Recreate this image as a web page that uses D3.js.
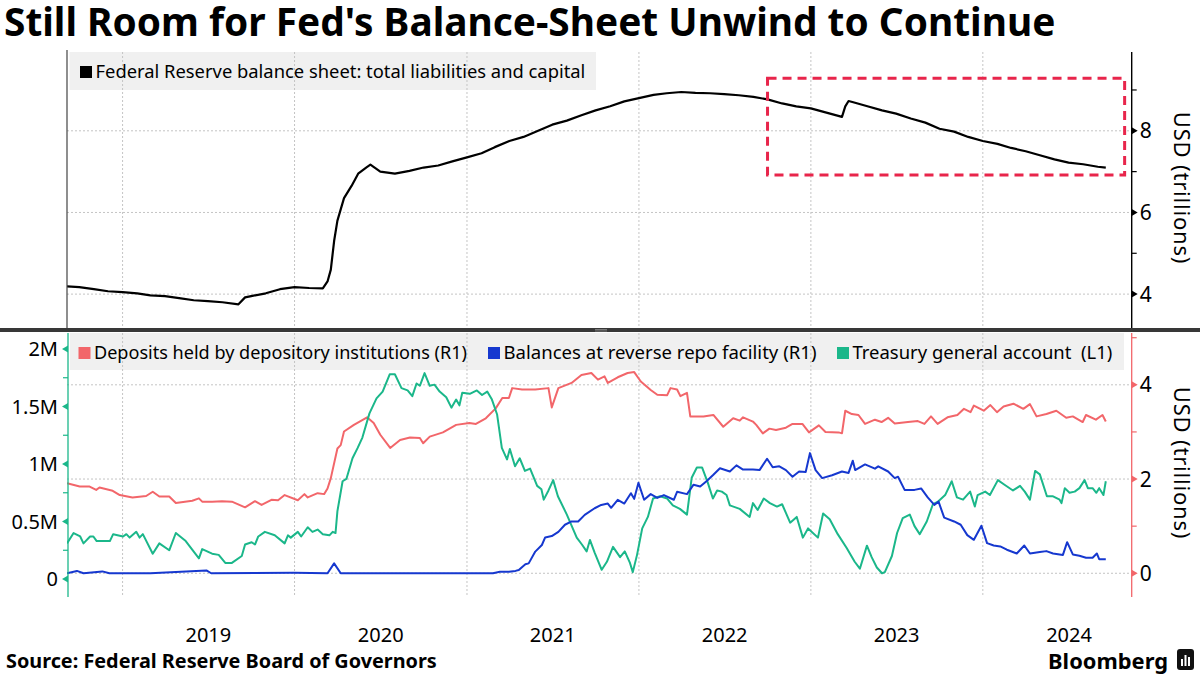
<!DOCTYPE html>
<html><head><meta charset="utf-8">
<script src="https://cdn.jsdelivr.net/npm/d3@7"></script>
<style>
body{margin:0;background:#fff}
svg{display:block}
text{font-family:"Noto Sans",sans-serif;fill:#000}
.pre{white-space:pre}
</style>
</head><body>
<svg id="c" width="1200" height="675"></svg>
<script>
// ---------------- DATA ----------------
const titleText = "Still Room for Fed's Balance-Sheet Unwind to Continue";
const sourceText = "Source: Federal Reserve Board of Governors";
const topLegendLabel = "Federal Reserve balance sheet: total liabilities and capital";
const bottomLegendLabels = ["Deposits held by depository institutions (R1)", "Balances at reverse repo facility (R1)", "Treasury general account  (L1)"];
const axisTitle = "USD (trillions)";
const yearLabels = ["2019", "2020", "2021", "2022", "2023", "2024"];
const topTicks = [4, 6, 8];
const topMinorTicks = [5, 7, 9];
const leftTicks = [0, 0.5, 1, 1.5, 2];
const leftTickLabels = ["0", "0.5M", "1M", "1.5M", "2M"];
const leftMinorTicks = [0.25, 0.75, 1.25, 1.75];
const rightTicks = [0, 2, 4];
const rightMinorTicks = [1, 3, 5];
const highlightDates = ["2022-10-01", "2024-10-28"];
const highlightValues = [6.92, 9.29];

// Federal Reserve total liabilities and capital (USD trillions)
const balanceSheet = [
["2018-09-05",4.19],["2018-10-01",4.17],["2018-11-01",4.12],["2018-12-01",4.07],["2019-01-01",4.05],["2019-02-01",4.02],["2019-03-01",3.97],["2019-04-01",3.95],["2019-05-01",3.90],["2019-06-01",3.85],["2019-07-01",3.83],["2019-08-01",3.80],["2019-09-04",3.75],["2019-09-18",3.92],["2019-10-01",3.95],["2019-11-01",4.02],["2019-12-01",4.12],
["2020-01-01",4.17],["2020-02-01",4.15],["2020-03-01",4.14],["2020-03-11",4.31],["2020-03-18",4.6],["2020-03-25",5.3],["2020-04-01",5.8],["2020-04-15",6.35],["2020-05-01",6.65],["2020-05-15",6.95],["2020-06-01",7.1],["2020-06-10",7.17],["2020-07-01",7.0],["2020-08-01",6.95],["2020-09-01",7.02],["2020-10-01",7.1],["2020-11-01",7.15],["2020-12-01",7.25],
["2021-01-01",7.35],["2021-02-01",7.45],["2021-03-01",7.6],["2021-04-01",7.75],["2021-05-01",7.85],["2021-06-01",8.0],["2021-07-01",8.15],["2021-08-01",8.25],["2021-09-01",8.38],["2021-10-01",8.5],["2021-11-01",8.6],["2021-12-01",8.72],
["2022-01-01",8.8],["2022-02-01",8.88],["2022-03-01",8.92],["2022-04-01",8.95],["2022-05-01",8.93],["2022-06-01",8.92],["2022-07-01",8.9],["2022-08-01",8.87],["2022-09-01",8.83],["2022-10-01",8.77],["2022-11-01",8.67],["2022-12-01",8.6],
["2023-01-01",8.55],["2023-02-01",8.45],["2023-03-08",8.34],["2023-03-15",8.6],["2023-03-22",8.73],["2023-04-01",8.7],["2023-05-01",8.6],["2023-06-01",8.5],["2023-07-01",8.42],["2023-08-01",8.3],["2023-09-01",8.2],["2023-10-01",8.05],["2023-11-01",7.98],["2023-12-01",7.85],
["2024-01-01",7.75],["2024-02-01",7.68],["2024-03-01",7.58],["2024-04-01",7.5],["2024-05-01",7.4],["2024-06-01",7.3],["2024-07-01",7.22],["2024-08-01",7.18],["2024-09-01",7.12],["2024-09-18",7.10]
];

// Deposits held by depository institutions (USD trillions, right axis)
const deposits = [
["2018-09-05",1.91],["2018-10-02",1.84],["2018-10-23",1.84],["2018-11-06",1.77],["2018-11-13",1.82],["2018-12-11",1.75],["2018-12-26",1.66],
["2019-01-22",1.61],["2019-02-20",1.64],["2019-03-06",1.73],["2019-03-20",1.63],["2019-04-10",1.63],["2019-04-24",1.49],["2019-05-29",1.54],["2019-06-12",1.59],["2019-06-19",1.52],["2019-07-10",1.52],["2019-07-31",1.53],["2019-08-21",1.52],["2019-09-18",1.40],["2019-10-09",1.53],["2019-10-23",1.45],["2019-11-13",1.56],["2019-11-27",1.55],["2019-12-11",1.66],
["2020-01-08",1.55],["2020-01-22",1.68],["2020-01-29",1.61],["2020-02-19",1.70],["2020-03-04",1.68],["2020-03-11",1.80],["2020-03-18",2.02],["2020-04-01",2.65],["2020-04-08",2.72],["2020-04-15",3.01],["2020-05-06",3.15],["2020-06-03",3.31],["2020-06-17",3.19],["2020-07-01",2.94],["2020-07-22",2.66],["2020-08-12",2.83],["2020-09-02",2.88],["2020-09-23",2.87],["2020-09-30",2.76],["2020-10-14",2.90],["2020-11-11",2.99],["2020-12-09",3.15],
["2021-01-06",3.19],["2021-01-20",3.17],["2021-02-10",3.29],["2021-03-03",3.50],["2021-03-17",3.72],["2021-03-31",3.72],["2021-04-07",3.93],["2021-04-28",3.90],["2021-05-26",3.90],["2021-06-23",3.93],["2021-06-30",3.52],["2021-07-14",3.93],["2021-08-11",4.04],["2021-09-01",4.21],["2021-09-22",4.25],["2021-10-06",4.11],["2021-10-20",4.18],["2021-10-27",4.04],["2021-11-17",4.16],["2021-12-08",4.25],["2021-12-22",4.27],
["2022-01-05",4.07],["2022-01-26",3.89],["2022-02-09",3.79],["2022-03-02",3.78],["2022-03-09",3.93],["2022-03-23",3.90],["2022-03-30",3.76],["2022-04-13",3.83],["2022-04-20",3.33],["2022-05-18",3.33],["2022-06-08",3.36],["2022-06-29",3.11],["2022-07-20",3.29],["2022-08-03",3.24],["2022-08-10",3.31],["2022-08-31",3.22],["2022-09-07",3.15],["2022-09-21",2.97],["2022-10-05",3.07],["2022-10-19",3.04],["2022-11-09",3.09],["2022-11-23",3.17],["2022-12-14",3.17],["2022-12-28",2.99],
["2023-01-18",3.14],["2023-02-01",3.00],["2023-03-01",2.99],["2023-03-08",2.97],["2023-03-15",3.45],["2023-03-29",3.38],["2023-04-12",3.36],["2023-04-26",3.17],["2023-05-17",3.26],["2023-05-31",3.21],["2023-06-14",3.30],["2023-06-28",3.18],["2023-07-26",3.21],["2023-08-16",3.23],["2023-08-30",3.17],["2023-09-13",3.33],["2023-09-27",3.17],["2023-10-18",3.31],["2023-11-08",3.36],["2023-11-22",3.49],["2023-12-06",3.42],["2023-12-13",3.56],
["2024-01-03",3.45],["2024-01-17",3.57],["2024-01-31",3.42],["2024-02-14",3.54],["2024-03-06",3.60],["2024-03-27",3.49],["2024-04-10",3.59],["2024-04-24",3.33],["2024-05-15",3.38],["2024-06-05",3.45],["2024-06-26",3.30],["2024-07-10",3.33],["2024-07-31",3.21],["2024-08-07",3.36],["2024-08-28",3.26],["2024-09-11",3.36],["2024-09-18",3.22]
];

// Balances at reverse repo facility (USD trillions, right axis)
const reverseRepo = [
["2018-09-05",0],["2018-09-26",0.05],["2018-10-10",0],["2018-11-19",0.04],["2018-12-04",0],["2019-03-01",0],["2019-06-28",0.06],["2019-07-08",0],["2019-12-31",0.01],["2020-03-11",0],["2020-03-25",0.21],["2020-04-08",0],["2021-02-25",0],["2021-03-12",0.03],["2021-03-31",0.03],["2021-04-14",0.05],["2021-04-21",0.07],["2021-05-05",0.19],["2021-05-12",0.21],["2021-05-26",0.46],["2021-06-09",0.60],["2021-06-16",0.76],["2021-06-30",0.79],["2021-07-14",0.88],["2021-07-28",1.03],["2021-08-11",1.10],["2021-08-25",1.10],["2021-09-08",1.24],["2021-09-29",1.38],["2021-10-13",1.45],["2021-10-27",1.48],["2021-11-03",1.39],["2021-11-17",1.56],["2021-12-01",1.48],["2021-12-15",1.70],["2021-12-22",1.58],["2021-12-31",1.92],
["2022-01-12",1.56],["2022-01-26",1.68],["2022-02-09",1.60],["2022-02-23",1.66],["2022-03-16",1.56],["2022-03-23",1.73],["2022-04-13",1.68],["2022-04-27",1.88],["2022-05-11",1.84],["2022-05-25",1.96],["2022-06-08",2.09],["2022-06-22",2.23],["2022-07-13",2.16],["2022-07-27",2.29],["2022-08-10",2.20],["2022-08-31",2.20],["2022-09-14",2.19],["2022-09-30",2.43],["2022-10-12",2.25],["2022-10-26",2.27],["2022-11-09",2.19],["2022-11-23",2.05],["2022-12-07",2.16],["2022-12-21",2.15],["2022-12-30",2.55],
["2023-01-11",2.19],["2023-01-25",2.02],["2023-02-15",2.08],["2023-03-08",2.16],["2023-03-22",2.13],["2023-03-31",2.39],["2023-04-05",2.19],["2023-04-26",2.31],["2023-05-17",2.22],["2023-05-24",2.27],["2023-06-14",2.16],["2023-06-28",2.02],["2023-07-05",2.05],["2023-07-19",1.77],["2023-08-09",1.77],["2023-08-23",1.80],["2023-09-06",1.61],["2023-09-20",1.45],["2023-09-29",1.52],["2023-10-11",1.18],["2023-11-01",1.10],["2023-11-15",1.03],["2023-11-29",0.81],["2023-12-13",0.71],["2023-12-29",1.01],
["2024-01-10",0.64],["2024-01-24",0.59],["2024-02-07",0.57],["2024-02-21",0.50],["2024-03-13",0.42],["2024-03-29",0.59],["2024-04-10",0.42],["2024-05-01",0.45],["2024-05-15",0.47],["2024-05-29",0.42],["2024-06-19",0.39],["2024-06-28",0.66],["2024-07-10",0.40],["2024-07-24",0.37],["2024-08-07",0.33],["2024-08-21",0.33],["2024-08-30",0.42],["2024-09-04",0.30],["2024-09-18",0.30]
];

// Treasury general account (USD millions of millions, left axis)
const treasuryAccount = [
["2018-09-05",0.31],["2018-09-19",0.40],["2018-10-03",0.37],["2018-10-10",0.31],["2018-10-24",0.37],["2018-10-31",0.37],["2018-11-07",0.33],["2018-12-05",0.33],["2018-12-12",0.39],
["2019-01-02",0.37],["2019-01-09",0.39],["2019-01-16",0.36],["2019-01-30",0.41],["2019-02-06",0.36],["2019-02-13",0.39],["2019-03-06",0.22],["2019-03-20",0.31],["2019-04-10",0.25],["2019-04-24",0.40],["2019-05-15",0.33],["2019-06-12",0.18],["2019-06-19",0.26],["2019-07-10",0.22],["2019-07-24",0.21],["2019-08-07",0.14],["2019-08-21",0.14],["2019-09-11",0.20],["2019-09-18",0.30],["2019-10-02",0.32],["2019-10-09",0.30],["2019-10-16",0.37],["2019-10-30",0.41],["2019-11-20",0.38],["2019-12-11",0.31],["2019-12-18",0.38],["2019-12-24",0.36],
["2020-01-08",0.41],["2020-01-15",0.37],["2020-01-29",0.45],["2020-02-08",0.41],["2020-02-19",0.43],["2020-03-01",0.39],["2020-03-15",0.38],["2020-03-22",0.41],["2020-03-28",0.40],["2020-04-01",0.59],["2020-04-12",0.85],["2020-04-20",0.87],["2020-05-03",1.05],["2020-05-14",1.14],["2020-05-24",1.23],["2020-06-08",1.44],["2020-06-23",1.57],["2020-07-06",1.63],["2020-07-21",1.78],["2020-08-01",1.78],["2020-08-15",1.66],["2020-08-28",1.64],["2020-09-07",1.59],["2020-09-16",1.70],["2020-09-23",1.68],["2020-10-03",1.79],["2020-10-14",1.68],["2020-10-24",1.69],["2020-11-04",1.63],["2020-11-18",1.58],["2020-11-29",1.49],["2020-12-09",1.56],["2020-12-16",1.51],["2020-12-22",1.62],
["2021-01-07",1.61],["2021-01-22",1.64],["2021-02-02",1.60],["2021-02-13",1.63],["2021-02-23",1.56],["2021-03-06",1.43],["2021-03-16",1.14],["2021-03-27",1.04],["2021-04-02",1.13],["2021-04-13",0.98],["2021-04-23",1.05],["2021-05-04",0.94],["2021-05-15",0.96],["2021-05-30",0.81],["2021-06-08",0.78],["2021-06-13",0.69],["2021-06-23",0.77],["2021-07-03",0.86],["2021-07-13",0.72],["2021-08-01",0.56],["2021-08-22",0.36],["2021-09-02",0.30],["2021-09-12",0.24],["2021-09-19",0.34],["2021-09-29",0.23],["2021-10-14",0.08],["2021-10-25",0.15],["2021-11-07",0.28],["2021-11-22",0.19],["2021-12-02",0.24],["2021-12-13",0.14],["2021-12-19",0.06],["2021-12-28",0.21],
["2022-01-08",0.44],["2022-01-20",0.54],["2022-01-31",0.70],["2022-02-15",0.72],["2022-03-02",0.70],["2022-03-14",0.64],["2022-03-29",0.61],["2022-04-13",0.56],["2022-04-23",0.88],["2022-05-04",0.97],["2022-05-15",0.97],["2022-05-27",0.84],["2022-06-07",0.70],["2022-06-16",0.77],["2022-06-26",0.76],["2022-07-06",0.73],["2022-07-13",0.64],["2022-08-03",0.61],["2022-08-24",0.54],["2022-08-31",0.66],["2022-09-10",0.60],["2022-09-23",0.70],["2022-10-06",0.66],["2022-10-21",0.63],["2022-11-01",0.65],["2022-11-18",0.49],["2022-12-02",0.54],["2022-12-15",0.36],["2022-12-26",0.44],
["2023-01-16",0.36],["2023-01-27",0.57],["2023-02-10",0.52],["2023-02-27",0.39],["2023-03-18",0.27],["2023-04-04",0.15],["2023-04-15",0.09],["2023-04-30",0.29],["2023-05-10",0.19],["2023-05-21",0.10],["2023-06-01",0.05],["2023-06-07",0.06],["2023-06-22",0.20],["2023-07-03",0.40],["2023-07-15",0.53],["2023-07-30",0.56],["2023-08-09",0.46],["2023-08-20",0.39],["2023-09-04",0.50],["2023-09-17",0.65],["2023-09-27",0.67],["2023-10-13",0.73],["2023-10-27",0.85],["2023-11-07",0.71],["2023-11-20",0.69],["2023-12-05",0.76],["2023-12-15",0.63],["2023-12-21",0.73],
["2024-01-06",0.76],["2024-01-16",0.73],["2024-02-02",0.86],["2024-02-16",0.82],["2024-03-05",0.77],["2024-03-20",0.81],["2024-03-30",0.76],["2024-04-10",0.69],["2024-04-21",0.94],["2024-05-01",0.91],["2024-05-16",0.72],["2024-05-28",0.72],["2024-06-12",0.69],["2024-06-16",0.66],["2024-06-23",0.79],["2024-07-03",0.75],["2024-07-14",0.76],["2024-07-24",0.79],["2024-08-04",0.86],["2024-08-11",0.79],["2024-08-21",0.79],["2024-08-29",0.75],["2024-09-04",0.79],["2024-09-13",0.73],["2024-09-18",0.85]
];

// ---------------- STYLE ----------------
const C = {
  black: "#000000", deposits: "#f2666a", repo: "#1638cf", tga: "#1bb78a",
  grid: "#c4c4c4", legendBg: "#f0f0f0", highlight: "#e8254b", divider: "#383838"
};

// ---------------- LAYOUT / SCALES ----------------
const parse = d3.timeParse("%Y-%m-%d");
const L = 67, R = 1131.7;
const topY0 = 52, topY1 = 328, botY0 = 333, botY1 = 597;

const x = d3.scaleTime().domain([parse("2018-09-05"), parse("2024-11-12")]).range([L, R]);
const yTop = d3.scaleLinear().domain([3.17, 9.93]).range([topY1, topY0]);
const yRight = d3.scaleLinear().domain([-0.525, 5.10]).range([598, 333]);
const yLeft = d3.scaleLinear().domain([-0.165, 2.139]).range([598, 333]);

const svg = d3.select("#c");
svg.append("rect").attr("width", 1200).attr("height", 675).attr("fill", "#fff");

function fitWidth(sel, w) {
  const len = sel.node().getComputedTextLength();
  const fs = parseFloat(sel.attr("font-size"));
  if (len > 0) sel.attr("font-size", (fs * w / len).toFixed(2));
}

// Title
const title = svg.append("text").attr("x", 4).attr("y", 36)
  .attr("font-family", "DejaVu Sans").attr("font-weight", "bold").attr("font-size", 32)
  .text(titleText);
fitWidth(title, 1052);

// clip paths
const defs = svg.append("defs");
defs.append("clipPath").attr("id", "clipTop").append("rect")
  .attr("x", L).attr("y", topY0).attr("width", R - L).attr("height", topY1 - topY0);
defs.append("clipPath").attr("id", "clipBot").append("rect")
  .attr("x", L).attr("y", botY0).attr("width", R - L).attr("height", botY1 - botY0);

const yearStarts = yearLabels.map(y => parse(y + "-01-01"));
const yearMids = yearLabels.map(y => parse(y + "-07-02"));

// ================= TOP PANEL =================
const gTop = svg.append("g");
gTop.append("rect").attr("x", 69.5).attr("y", topY0).attr("width", 526.5).attr("height", 38).attr("fill", C.legendBg);

gTop.selectAll(".hg").data(topTicks).join("line")
  .attr("x1", L).attr("x2", R).attr("y1", d => yTop(d)).attr("y2", d => yTop(d))
  .attr("stroke", C.grid).attr("stroke-dasharray", "2,2");
gTop.selectAll(".vg").data(yearStarts).join("line")
  .attr("x1", d => x(d)).attr("x2", d => x(d)).attr("y1", topY0).attr("y2", topY1)
  .attr("stroke", C.grid).attr("stroke-dasharray", "2,2");

gTop.append("rect").attr("x", 80).attr("y", 66).attr("width", 12).attr("height", 12).attr("fill", C.black);
const tl = gTop.append("text").attr("x", 95.5).attr("y", 72).attr("dy", "0.35em").attr("font-size", 17).text(topLegendLabel);
fitWidth(tl, 490);

const lineTop = d3.line().x(d => x(parse(d[0]))).y(d => yTop(d[1]));
gTop.append("path").datum(balanceSheet).attr("d", lineTop).attr("clip-path", "url(#clipTop)")
  .attr("fill", "none").attr("stroke", C.black).attr("stroke-width", 2.2).attr("stroke-linejoin", "round");

gTop.append("rect")
  .attr("x", x(parse(highlightDates[0]))).attr("y", yTop(highlightValues[1]))
  .attr("width", x(parse(highlightDates[1])) - x(parse(highlightDates[0])))
  .attr("height", yTop(highlightValues[0]) - yTop(highlightValues[1]))
  .attr("fill", "none").attr("stroke", C.highlight).attr("stroke-width", 3).attr("stroke-dasharray", "9,6");

gTop.append("line").attr("x1", L).attr("x2", L).attr("y1", 50).attr("y2", topY1).attr("stroke", "#444").attr("stroke-width", 1.2);
gTop.append("line").attr("x1", R).attr("x2", R).attr("y1", topY0).attr("y2", topY1).attr("stroke", "#000").attr("stroke-width", 1.4);
gTop.selectAll(".mt").data(topMinorTicks).join("line")
  .attr("x1", R).attr("x2", R + 5).attr("y1", d => yTop(d)).attr("y2", d => yTop(d)).attr("stroke", "#000").attr("stroke-width", 1.2);
gTop.selectAll(".Mt").data(topTicks).join("path")
  .attr("d", d => `M${R},${yTop(d) - 3.5}L${R + 6},${yTop(d)}L${R},${yTop(d) + 3.5}Z`).attr("fill", "#000");
gTop.selectAll(".tl").data(topTicks).join("text")
  .attr("x", R + 8).attr("y", d => yTop(d)).attr("dy", "0.36em").attr("font-size", 21).text(d => d);
gTop.append("text").attr("class", "pre").attr("transform", `translate(1174,188) rotate(90)`).attr("text-anchor", "middle")
  .attr("font-size", 22).attr("letter-spacing", 0.8).text(axisTitle);

// divider
svg.append("rect").attr("x", 0).attr("y", 328).attr("width", 1200).attr("height", 4).attr("fill", C.divider);
svg.append("rect").attr("x", 595).attr("y", 329).attr("width", 12).attr("height", 0.8).attr("fill", "#8a8a8a");
svg.append("rect").attr("x", 595).attr("y", 330.6).attr("width", 12).attr("height", 0.8).attr("fill", "#8a8a8a");

// ================= BOTTOM PANEL =================
const gBot = svg.append("g");
gBot.append("rect").attr("x", 70).attr("y", botY0).attr("width", 1054).attr("height", 37).attr("fill", C.legendBg);

gBot.selectAll(".hg").data(rightTicks).join("line")
  .attr("x1", L).attr("x2", R).attr("y1", d => yRight(d)).attr("y2", d => yRight(d))
  .attr("stroke", C.grid).attr("stroke-dasharray", "2,2");
gBot.selectAll(".vg").data(yearStarts).join("line")
  .attr("x1", d => x(d)).attr("x2", d => x(d)).attr("y1", botY0).attr("y2", botY1)
  .attr("stroke", C.grid).attr("stroke-dasharray", "2,2");

const legendColors = [C.deposits, C.repo, C.tga];
const legendSquareX = [78.5, 488, 837];
const legendTextW = [373, 313, 260];
bottomLegendLabels.forEach((lab, i) => {
  gBot.append("rect").attr("x", legendSquareX[i]).attr("y", 347).attr("width", 12).attr("height", 12).attr("fill", legendColors[i]);
  const t = gBot.append("text").attr("class", "pre").attr("x", legendSquareX[i] + 15.5).attr("y", 353).attr("dy", "0.35em")
    .attr("font-size", 17).text(lab);
  fitWidth(t, legendTextW[i]);
});

const lineR = d3.line().x(d => x(parse(d[0]))).y(d => yRight(d[1]));
const lineL = d3.line().x(d => x(parse(d[0]))).y(d => yLeft(d[1]));
const gLines = gBot.append("g").attr("clip-path", "url(#clipBot)");
gLines.append("path").datum(deposits).attr("d", lineR).attr("fill", "none").attr("stroke", C.deposits).attr("stroke-width", 2).attr("stroke-linejoin", "round");
gLines.append("path").datum(treasuryAccount).attr("d", lineL).attr("fill", "none").attr("stroke", C.tga).attr("stroke-width", 2).attr("stroke-linejoin", "round");
gLines.append("path").datum(reverseRepo).attr("d", lineR).attr("fill", "none").attr("stroke", C.repo).attr("stroke-width", 2).attr("stroke-linejoin", "round");

const LX = 68;
gBot.append("line").attr("x1", LX).attr("x2", LX).attr("y1", botY0).attr("y2", botY1).attr("stroke", C.tga).attr("stroke-width", 1.3);
gBot.selectAll(".lmt").data(leftMinorTicks).join("line")
  .attr("x1", LX).attr("x2", LX - 5).attr("y1", d => yLeft(d)).attr("y2", d => yLeft(d)).attr("stroke", C.tga).attr("stroke-width", 1.2);
gBot.selectAll(".lMt").data(leftTicks).join("path")
  .attr("d", d => `M${LX},${yLeft(d) - 3.5}L${LX - 6},${yLeft(d)}L${LX},${yLeft(d) + 3.5}Z`).attr("fill", C.tga);
gBot.selectAll(".ll").data(leftTicks).join("text")
  .attr("x", LX - 10).attr("y", d => yLeft(d)).attr("dy", "0.36em").attr("text-anchor", "end").attr("font-size", 20)
  .text((d, i) => leftTickLabels[i]);

gBot.append("line").attr("x1", R).attr("x2", R).attr("y1", botY0).attr("y2", botY1).attr("stroke", C.deposits).attr("stroke-width", 1.3);
gBot.selectAll(".rmt").data(rightMinorTicks).join("line")
  .attr("x1", R).attr("x2", R + 5).attr("y1", d => yRight(d)).attr("y2", d => yRight(d)).attr("stroke", C.deposits).attr("stroke-width", 1.2);
gBot.selectAll(".rMt").data(rightTicks).join("path")
  .attr("d", d => `M${R},${yRight(d) - 3.5}L${R + 6},${yRight(d)}L${R},${yRight(d) + 3.5}Z`).attr("fill", C.deposits);
gBot.selectAll(".rl").data(rightTicks).join("text")
  .attr("x", R + 8).attr("y", d => yRight(d)).attr("dy", "0.36em").attr("font-size", 21).text(d => d);
gBot.append("text").attr("class", "pre").attr("transform", `translate(1174,463) rotate(90)`).attr("text-anchor", "middle")
  .attr("font-size", 22).attr("letter-spacing", 0.8).text(axisTitle);

svg.selectAll(".xl").data(yearMids).join("text")
  .attr("x", d => x(d)).attr("y", 635).attr("dy", "0.36em").attr("text-anchor", "middle").attr("font-size", 20)
  .text((d, i) => yearLabels[i]);

const src = svg.append("text").attr("x", 6).attr("y", 668).attr("font-family", "DejaVu Sans").attr("font-weight", "bold")
  .attr("font-size", 16).text(sourceText);
fitWidth(src, 431);
const bb = svg.append("text").attr("x", 1168).attr("y", 669).attr("text-anchor", "end")
  .attr("font-family", "Roboto").attr("font-weight", "bold").attr("font-size", 22).text("Bloomberg");
fitWidth(bb, 120);
const icon = svg.append("g").attr("transform", "translate(1177,649)");
icon.append("rect").attr("width", 17).attr("height", 21).attr("rx", 3).attr("fill", "#111");
icon.append("rect").attr("x", 4).attr("y", 10).attr("width", 2).attr("height", 7).attr("fill", "#fff");
icon.append("rect").attr("x", 7.5).attr("y", 6).attr("width", 2).attr("height", 11).attr("fill", "#fff");
icon.append("rect").attr("x", 11).attr("y", 8).attr("width", 2).attr("height", 9).attr("fill", "#fff");
</script>
</body></html>
